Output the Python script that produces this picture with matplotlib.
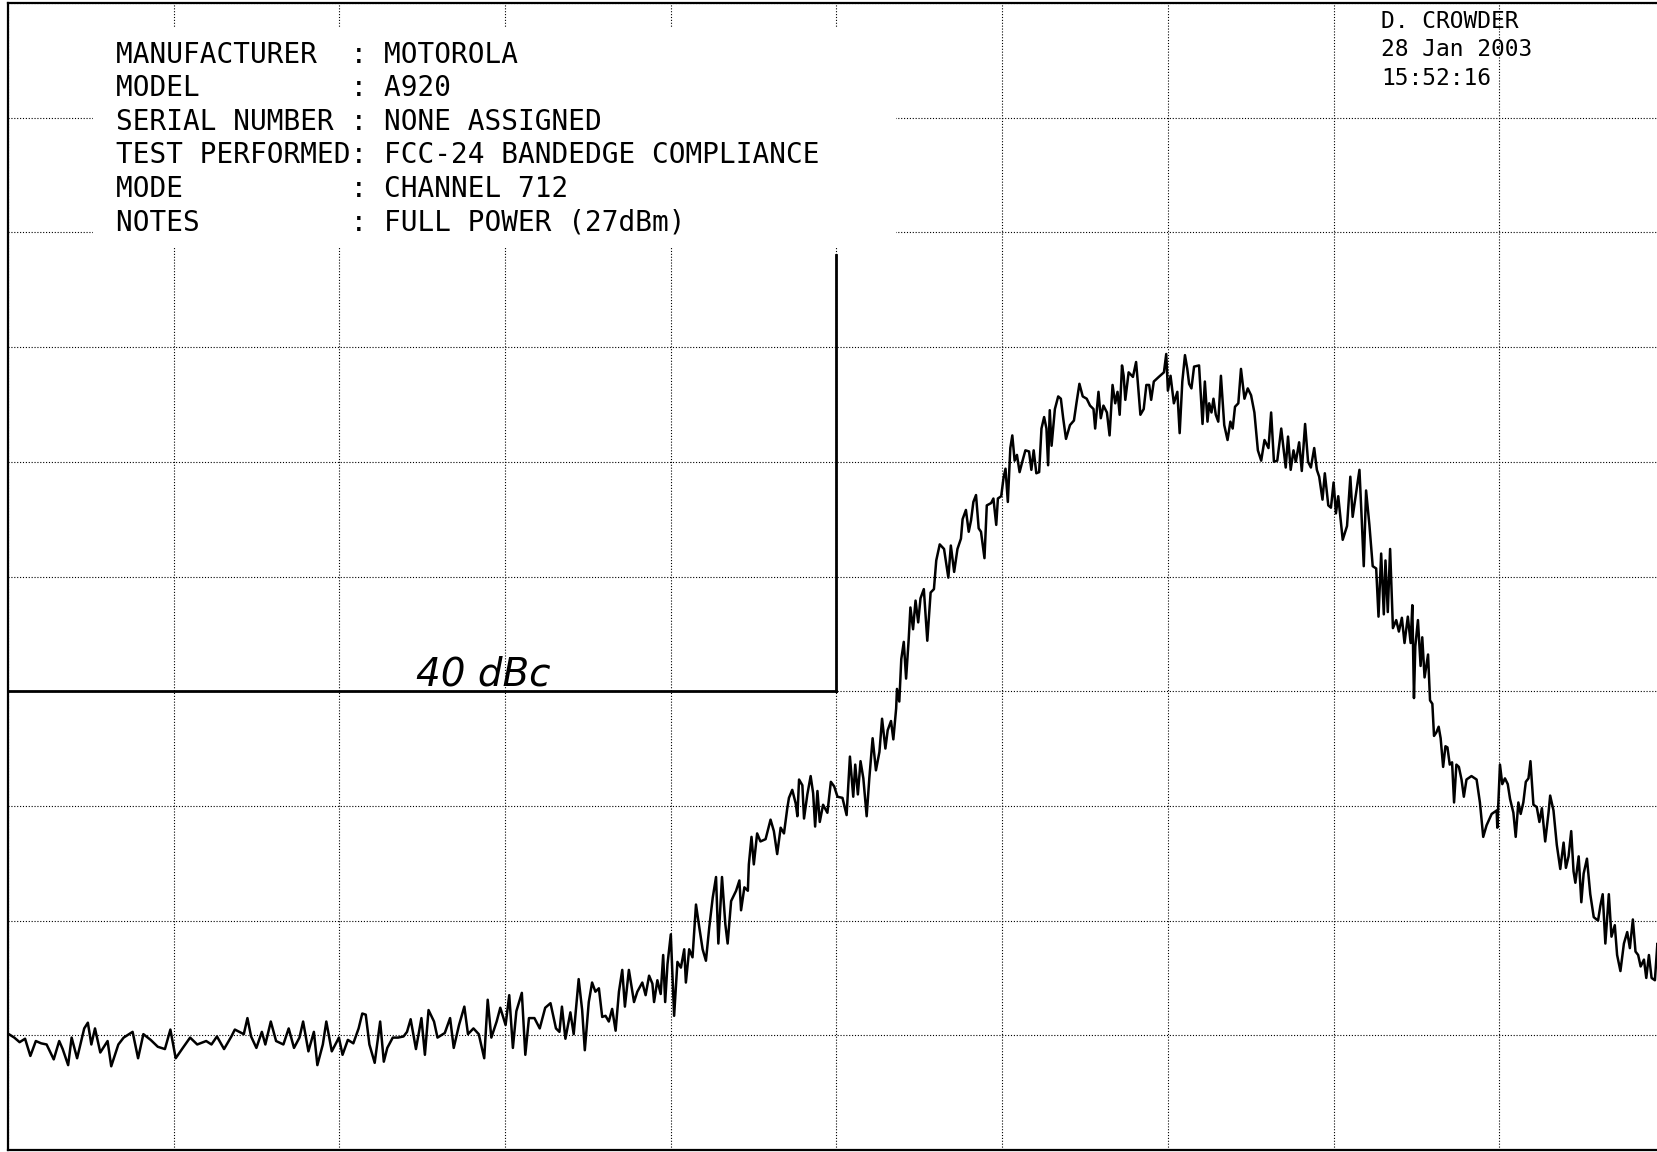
import matplotlib
matplotlib.use("Agg")
import matplotlib.pyplot as plt
from matplotlib.patches import Rectangle

# trace, in screen divisions (10 x 10)
trace_x = [
    0.005, 0.038, 0.07, 0.103, 0.135, 0.168, 0.2, 0.233, 0.276, 0.309,
    0.33, 0.363, 0.384, 0.417, 0.46, 0.482, 0.503, 0.525, 0.557, 0.601,
    0.623, 0.666, 0.698, 0.752, 0.785, 0.817, 0.861, 0.904, 0.947, 0.98,
    1.012, 1.055, 1.099, 1.142, 1.196, 1.228, 1.261, 1.304, 1.348, 1.369,
    1.423, 1.445, 1.467, 1.499, 1.532, 1.553, 1.586, 1.618, 1.662, 1.694,
    1.726, 1.759, 1.781, 1.813, 1.846, 1.867, 1.9, 1.921, 1.954, 1.997,
    2.019, 2.051, 2.084, 2.116, 2.138, 2.159, 2.181, 2.213, 2.246, 2.268,
    2.289, 2.322, 2.354, 2.387, 2.408, 2.43, 2.462, 2.495, 2.516, 2.538,
    2.571, 2.592, 2.636, 2.668, 2.69, 2.722, 2.754, 2.776, 2.809, 2.841,
    2.874, 2.895, 2.917, 2.949, 2.971, 3.003, 3.025, 3.047, 3.068, 3.101,
    3.122, 3.144, 3.177, 3.209, 3.242, 3.274, 3.307, 3.328,
    3.343, 3.364, 3.394, 3.414, 3.444, 3.465, 3.481, 3.505, 3.525, 3.545,
    3.566, 3.586, 3.606, 3.626, 3.646, 3.667, 3.687, 3.707, 3.723, 3.747,
    3.778, 3.798, 3.828, 3.848, 3.869, 3.889, 3.899, 3.919, 3.939, 3.954,
    3.966, 3.98, 4.0, 4.01, 4.02, 4.04, 4.061, 4.081, 4.091, 4.111,
    4.131, 4.152, 4.172, 4.192, 4.212, 4.232, 4.253, 4.273, 4.287, 4.309,
    4.329, 4.343, 4.364, 4.394, 4.414, 4.424, 4.444, 4.465,
    4.471, 4.487, 4.501, 4.521, 4.541, 4.572, 4.602, 4.622, 4.642, 4.663,
    4.683, 4.703, 4.713,
    4.733, 4.754, 4.764, 4.774, 4.794, 4.804, 4.824, 4.844, 4.859, 4.871,
    4.885, 4.899, 4.919, 4.945, 4.966, 4.986, 5.006, 5.036, 5.061, 5.081,
    5.101, 5.113, 5.129, 5.145, 5.162, 5.182, 5.198, 5.218, 5.238, 5.259,
    5.275, 5.295, 5.309, 5.329, 5.343, 5.36,
    5.365, 5.379, 5.391, 5.406, 5.42, 5.436, 5.446, 5.462, 5.477, 5.493,
    5.507, 5.527, 5.548, 5.568, 5.588, 5.602, 5.623, 5.649, 5.675, 5.69,
    5.71, 5.73, 5.751, 5.761,
    5.781, 5.798, 5.812, 5.826, 5.842, 5.858, 5.872, 5.893, 5.907, 5.933,
    5.947, 5.964, 5.974, 5.994, 6.008, 6.02, 6.034, 6.049, 6.061, 6.075,
    6.089, 6.105, 6.121, 6.14, 6.162, 6.176, 6.19, 6.206, 6.223, 6.237,
    6.253, 6.267, 6.277, 6.287, 6.298, 6.318, 6.338, 6.354, 6.368, 6.385,
    6.409, 6.433, 6.449, 6.466, 6.486, 6.51, 6.53, 6.551, 6.561, 6.581,
    6.595, 6.611, 6.632, 6.648, 6.666, 6.682, 6.696, 6.709, 6.723, 6.733,
    6.743, 6.763, 6.789, 6.808, 6.818, 6.834, 6.854, 6.87, 6.887, 6.899,
    6.915, 6.945, 6.976, 6.99, 7.0, 7.016, 7.036, 7.057, 7.071, 7.087,
    7.103, 7.117, 7.128, 7.142, 7.158, 7.188, 7.209, 7.223, 7.239, 7.249,
    7.263, 7.275, 7.289, 7.304, 7.32, 7.34, 7.36, 7.377, 7.391, 7.405,
    7.425, 7.441, 7.462, 7.482, 7.502, 7.522, 7.543, 7.563, 7.583, 7.607,
    7.623, 7.64, 7.66, 7.684,
    7.711, 7.725, 7.741, 7.758, 7.772, 7.792, 7.808, 7.828, 7.846, 7.863,
    7.883, 7.899, 7.913, 7.933, 7.947, 7.968, 7.984, 8.0, 8.014, 8.028,
    8.055, 8.081, 8.101, 8.115, 8.135, 8.156, 8.17, 8.182, 8.196, 8.216,
    8.236, 8.257, 8.271, 8.287, 8.303, 8.313, 8.327, 8.341, 8.358, 8.378,
    8.394, 8.412, 8.428, 8.448, 8.465, 8.475, 8.485, 8.493, 8.509, 8.525,
    8.535, 8.549, 8.57, 8.582, 8.596, 8.606, 8.62, 8.634, 8.646, 8.661,
    8.675, 8.687, 8.701, 8.715, 8.727, 8.741, 8.756, 8.772, 8.786, 8.802,
    8.832, 8.863, 8.883, 8.903, 8.923, 8.954, 8.984, 8.988, 9.004, 9.018,
    9.034, 9.051, 9.065, 9.085, 9.099, 9.115, 9.129, 9.145, 9.16, 9.176,
    9.188, 9.206, 9.226, 9.242, 9.257, 9.277, 9.297, 9.307, 9.327, 9.347,
    9.368, 9.388, 9.402, 9.418, 9.434, 9.448, 9.459, 9.479, 9.495, 9.509,
    9.529, 9.549, 9.57, 9.596, 9.61, 9.624, 9.64, 9.661, 9.677, 9.697,
    9.711, 9.731, 9.752, 9.772, 9.788, 9.806, 9.822, 9.838, 9.853, 9.873,
    9.887, 9.903, 9.919, 9.939, 9.954, 9.968,
]
trace_y = [
    1.01, 0.98, 0.94, 0.97, 0.82, 0.95, 0.93, 0.92, 0.79, 0.95,
    0.88, 0.74, 0.98, 0.80, 1.06, 1.11, 0.92, 1.06, 0.85, 0.95,
    0.73, 0.92, 0.98, 1.03, 0.80, 1.01, 0.96, 0.90, 0.88, 1.05,
    0.80, 0.89, 0.98, 0.92, 0.95, 0.92, 0.99, 0.88, 0.99, 1.05,
    1.01, 1.15, 0.99, 0.89, 1.03, 0.92, 1.12, 0.95, 0.92, 1.06,
    0.89, 0.98, 1.12, 0.86, 1.03, 0.74, 0.92, 1.12, 0.86, 0.98,
    0.83, 0.96, 0.93, 1.06, 1.19, 1.18, 0.92, 0.76, 1.12, 0.77,
    0.89, 0.98, 0.98, 0.99, 1.03, 1.14, 0.88, 1.15, 0.83, 1.22,
    1.12, 0.98, 1.02, 1.15, 0.89, 1.09, 1.25, 1.01, 1.06, 1.01,
    0.80, 1.31, 0.98, 1.12, 1.24, 1.09, 1.35, 0.89, 1.21, 1.37,
    0.83, 1.15, 1.15, 1.06, 1.24, 1.28, 1.06, 1.03,
    1.25, 0.97, 1.20, 1.01, 1.49, 1.22, 0.87, 1.29, 1.46, 1.38,
    1.41, 1.16, 1.17, 1.12, 1.23, 1.04, 1.38, 1.57, 1.25, 1.57,
    1.29, 1.38, 1.46, 1.35, 1.52, 1.45, 1.29, 1.48, 1.36, 1.70,
    1.29, 1.62, 1.88, 1.52, 1.17, 1.64, 1.59, 1.75, 1.46, 1.75,
    1.68, 2.14, 1.94, 1.75, 1.65, 1.94, 2.20, 2.38, 1.80, 2.38,
    1.97, 1.80, 2.17, 2.26, 2.35, 2.09, 2.29, 2.26,
    2.49, 2.73, 2.49, 2.76, 2.69, 2.71, 2.88, 2.78, 2.58, 2.81,
    2.76, 2.98, 3.07,
    3.14, 3.02, 2.91, 3.23, 3.18, 2.89, 3.10, 3.26, 3.11, 2.82,
    3.13, 2.86, 3.01, 2.94, 3.21, 3.17, 3.08, 3.07, 2.92, 3.43,
    3.08, 3.36, 3.10, 3.39, 3.24, 2.91, 3.24, 3.59, 3.31, 3.47,
    3.76, 3.50, 3.66, 3.74, 3.58, 3.85,
    4.02, 3.91, 4.28, 4.43, 4.11, 4.46, 4.73, 4.54, 4.79, 4.60,
    4.81, 4.89, 4.44, 4.86, 4.89, 5.14, 5.28, 5.24, 4.99, 5.27,
    5.04, 5.24, 5.33, 5.50,
    5.58, 5.39, 5.49, 5.65, 5.71, 5.42, 5.39, 5.16, 5.62, 5.64,
    5.68, 5.45, 5.68, 5.70, 5.86, 5.94, 5.65, 6.12, 6.23, 6.01,
    6.06, 5.91, 6.00, 6.10, 6.09, 5.93, 6.10, 5.90, 5.91, 6.29,
    6.39, 6.29, 5.97, 6.45, 6.14, 6.46, 6.57, 6.55, 6.38, 6.20,
    6.32, 6.36, 6.52, 6.68, 6.57, 6.55, 6.49, 6.46, 6.29, 6.61,
    6.38, 6.49, 6.43, 6.23, 6.67, 6.51, 6.61, 6.41, 6.84, 6.75,
    6.54, 6.78, 6.74, 6.87, 6.70, 6.41, 6.46, 6.67, 6.67, 6.54,
    6.70, 6.74, 6.78, 6.94, 6.62, 6.75, 6.51, 6.61, 6.25, 6.70,
    6.93, 6.81, 6.68, 6.64, 6.83, 6.84, 6.33, 6.70, 6.35, 6.51,
    6.43, 6.55, 6.41, 6.35, 6.75, 6.32, 6.19, 6.35, 6.29, 6.48,
    6.51, 6.81, 6.55, 6.64, 6.58, 6.43, 6.10, 6.01, 6.19, 6.12,
    6.43, 6.00, 6.01, 6.29,
    5.95, 6.22, 5.93, 6.10, 6.00, 6.17, 5.92, 6.33, 6.00, 5.95,
    6.12, 5.93, 5.87, 5.67, 5.90, 5.62, 5.60, 5.82, 5.55, 5.70,
    5.32, 5.44, 5.87, 5.52, 5.72, 5.93, 5.49, 5.09, 5.75, 5.45,
    5.09, 5.07, 4.65, 5.20, 4.67, 5.14, 4.69, 5.24, 4.55, 4.62,
    4.52, 4.64, 4.42, 4.65, 4.42, 4.75, 3.94, 4.39, 4.62, 4.22,
    4.47, 4.12, 4.32, 3.92, 3.89, 3.61, 3.64, 3.69, 3.59, 3.34,
    3.52, 3.51, 3.36, 3.38, 3.03, 3.36, 3.34, 3.23, 3.08, 3.23,
    3.26, 3.23, 3.03, 2.73, 2.83, 2.93, 2.96, 2.81, 3.36, 3.19,
    3.24, 3.19, 3.06, 2.94, 2.73, 3.03, 2.93, 3.03, 3.21, 3.24,
    3.39, 3.01, 2.99, 2.86, 2.98, 2.69, 2.94, 3.09, 2.96, 2.66,
    2.45, 2.68, 2.46, 2.56, 2.78, 2.43, 2.33, 2.56, 2.16, 2.41,
    2.54, 2.23, 2.03, 2.00, 2.13, 2.23, 1.80, 2.23, 1.86, 1.96,
    1.70, 1.56, 1.80, 1.90, 1.76, 2.01, 1.73, 1.70, 1.60, 1.66,
    1.50, 1.70, 1.50, 1.48, 1.80, 1.47,
]
assert len(trace_x) == len(trace_y)

# hand drawn limit: -40 dBc level up to the band edge
limit_level = 4.0
band_edge = 5.0
edge_top = 7.8
limit_note = "40 dBc"

header_keys = ["MANUFACTURER", "MODEL", "SERIAL NUMBER", "TEST PERFORMED", "MODE", "NOTES"]
header_vals = ["MOTOROLA", "A920", "NONE ASSIGNED", "FCC-24 BANDEDGE COMPLIANCE",
               "CHANNEL 712", "FULL POWER (27dBm)"]
stamp_lines = ["D. CROWDER", "28 Jan 2003", "15:52:16"]

W, H = 1658, 1152
fig = plt.figure(figsize=(W / 100, H / 100), dpi=100)
ax = fig.add_axes([8 / W, 2 / H, 1657 / W, 1147 / H])
ax.set_xlim(0, 10)
ax.set_ylim(0, 10)
ax.set_xticks(range(11))
ax.set_yticks(range(11))
ax.tick_params(length=0, labelbottom=False, labelleft=False)
ax.set_axisbelow(True)
ax.grid(True, color="black", linewidth=0.8, linestyle=(0, (1, 1.6)))
for side in ["left", "bottom", "top"]:
    ax.spines[side].set_linewidth(1.6)
ax.spines["right"].set_visible(False)

# white patch behind the header block hides the grid
ax.add_patch(Rectangle((0.51, 7.87), 4.85, 1.92, facecolor="white",
                       edgecolor="none", zorder=1))

ax.plot(trace_x, trace_y, color="black", linewidth=1.8, zorder=3)
ax.plot([0, band_edge], [limit_level, limit_level], color="black", linewidth=2.0, zorder=3)
ax.plot([band_edge, band_edge], [limit_level, edge_top], color="black", linewidth=2.0, zorder=3)
ax.text(2.46, limit_level + 0.05, limit_note, fontsize=28, style="italic",
        family="DejaVu Sans", va="baseline", zorder=4)

for i, (k, v) in enumerate(zip(header_keys, header_vals)):
    line = k.ljust(14) + ": " + v
    fig.text(116 / W, 1 - (63 + i * 33.4) / H, line, family="DejaVu Sans Mono",
             fontsize=20, va="baseline", ha="left")

for i, s in enumerate(stamp_lines):
    fig.text(1381 / W, 1 - (28 + i * 28.5) / H, s, family="DejaVu Sans Mono",
             fontsize=16.5, va="baseline", ha="left")

fig.savefig("out.png", dpi=100)
